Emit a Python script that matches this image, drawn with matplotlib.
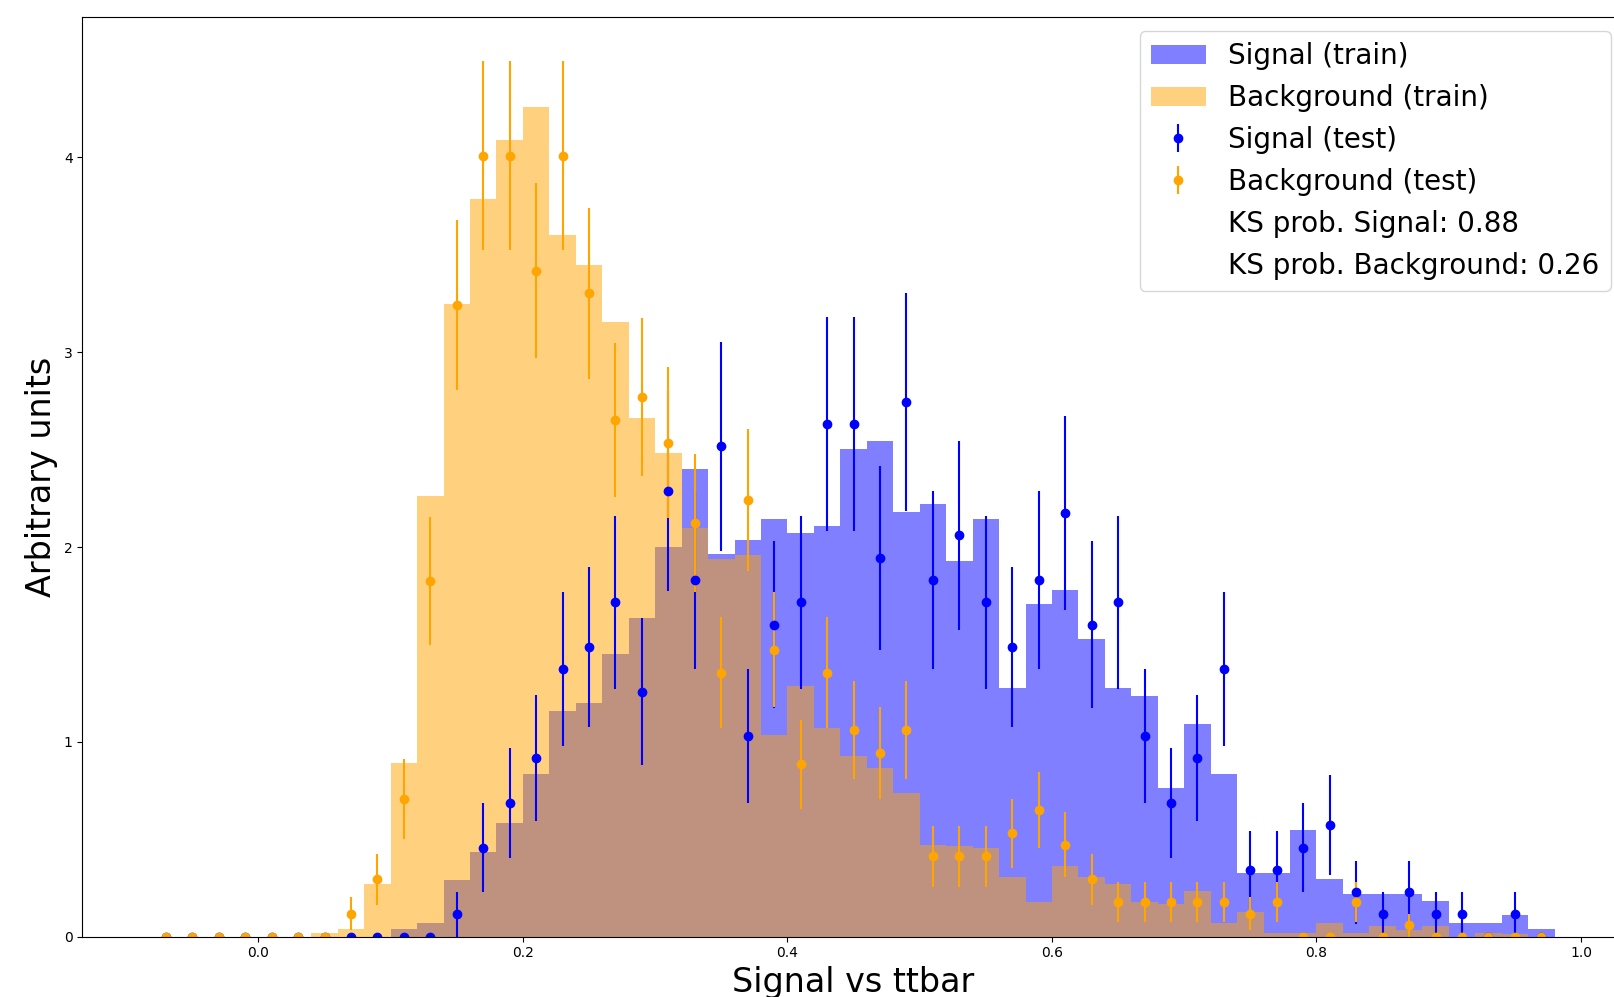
import numpy as np
import matplotlib
matplotlib.use("Agg")
import matplotlib.pyplot as plt
from matplotlib.lines import Line2D

# =========================
# Binning (53 bins of width 0.02)
# =========================
bin_lo, bin_hi, n_bins = -0.08, 0.98, 53
edges = np.linspace(bin_lo, bin_hi, n_bins + 1)
centers = 0.5 * (edges[:-1] + edges[1:])
width = edges[1] - edges[0]

# =========================
# Train histograms (density per bin)
# =========================
sig_train = [0, 0, 0, 0, 0, 0, 0, 0, 0,
             0.038, 0.072, 0.29, 0.435, 0.582, 0.834, 1.160, 1.201, 1.451, 1.636,
             2.00, 2.40, 1.965, 2.034, 2.143, 2.071, 2.108, 2.505, 2.546, 2.178,
             2.22, 1.930, 2.143, 1.275, 1.708, 1.780, 1.528, 1.275, 1.237, 0.762,
             1.09, 0.834, 0.329, 0.329, 0.546, 0.295, 0.219, 0.219, 0.219, 0.185,
             0.072, 0.072, 0.11, 0.038]

bkg_train = [0, 0, 0, 0, 0, 0,
             0.02, 0.038, 0.27, 0.89, 2.264, 3.246, 3.787, 4.09, 4.26, 3.604,
             3.446, 3.154, 2.664, 2.485, 2.10, 1.939, 1.959, 1.035, 1.287, 1.07,
             0.929, 0.868, 0.739, 0.471, 0.465, 0.454, 0.308, 0.18, 0.363, 0.308,
             0.269, 0.18, 0.166, 0.235, 0.072, 0.128, 0.02, 0.02, 0.072, 0.02,
             0.056, 0.035, 0.056, 0, 0.02, 0.015, 0]

# =========================
# Test samples (raw counts per bin)
# =========================
sig_test_counts = [0, 0, 0, 0, 0, 0, 0, 0, 0, 0, 0,
                   1, 4, 6, 8, 12, 13, 15, 11, 20, 16, 22, 9, 14, 15, 23, 23,
                   17, 24, 16, 18, 15, 13, 16, 19, 14, 15, 9, 6, 8, 12, 3, 3,
                   4, 5, 2, 1, 2, 1, 1, 0, 1, 0]

bkg_test_counts = [0, 0, 0, 0, 0, 0, 0,
                   2, 5, 12, 31, 55, 68, 68, 58, 68, 56, 45, 47, 43, 36, 23,
                   38, 25, 15, 23, 18, 16, 18, 7, 7, 7, 9, 11, 8, 5, 3, 3, 3,
                   3, 3, 2, 3, 0, 0, 3, 0, 1, 0, 0, 0, 0, 0]

ks_sig = 0.88
ks_bkg = 0.26


def normalise(counts):
    counts = np.array(counts, dtype=float)
    norm = counts.sum() * width
    return counts / norm, np.sqrt(counts) / norm


sig_test, sig_err = normalise(sig_test_counts)
bkg_test, bkg_err = normalise(bkg_test_counts)

# =========================
# Plot
# =========================
fig = plt.figure(figsize=(16.14, 9.97), dpi=100)
ax = fig.add_axes([0.0511, 0.0605, 0.9555, 0.9223])

ax.hist(centers, bins=edges, weights=sig_train, histtype="stepfilled",
        color="blue", alpha=0.5, label="Signal (train)")
ax.hist(centers, bins=edges, weights=bkg_train, histtype="stepfilled",
        color="orange", alpha=0.5, label="Background (train)")

h_sig = ax.errorbar(centers, sig_test, yerr=sig_err, fmt="o", color="blue",
                    label="Signal (test)")
h_bkg = ax.errorbar(centers, bkg_test, yerr=bkg_err, fmt="o", color="orange",
                    label="Background (test)")

ax.set_xlabel("Signal vs ttbar", fontsize=24)
ax.set_ylabel("Arbitrary units", fontsize=24)

handles, labels = ax.get_legend_handles_labels()
order = ["Signal (train)", "Background (train)", "Signal (test)", "Background (test)"]
hmap = dict(zip(labels, handles))
handles = [hmap[k] for k in order]
labels = list(order)
handles += [Line2D([], [], linestyle="none"), Line2D([], [], linestyle="none")]
labels += [f"KS prob. Signal: {ks_sig:.2f}", f"KS prob. Background: {ks_bkg:.2f}"]
ax.legend(handles, labels, loc="upper right", fontsize=20)

fig.savefig("out.png", dpi=100)
